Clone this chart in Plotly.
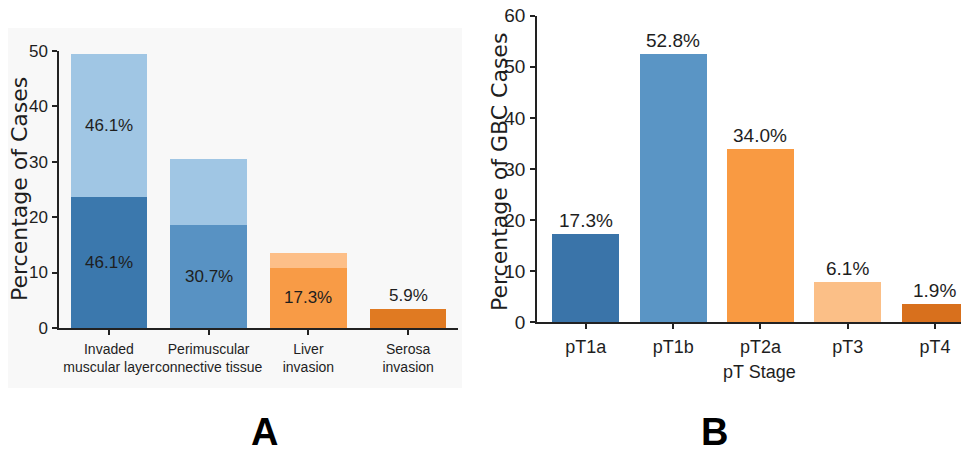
import plotly.graph_objects as go

# page body adds an 8px margin; the figure is sized to fill the rest of the window
OFF = 8
W, H = 969 - OFF, 452 - OFF

# ---- Panel A data ----
cats_a = ["Invaded<br>muscular layer", "Perimuscular<br>connective tissue",
          "Liver<br>invasion", "Serosa<br>invasion"]
lower_a = [23.6, 18.6, 10.9, 3.4]
upper_a = [25.8, 11.8, 2.7, 0.0]
lower_text_a = ["46.1%", "30.7%", "17.3%", ""]
upper_text_a = ["46.1%", "", "", ""]
above_text_a = ["", "", "", "5.9%"]
lower_colors_a = ["#3b78ad", "#5892c3", "#f89b46", "#e07a22"]
upper_colors_a = ["#a0c6e4", "#a0c6e4", "#fdbf88", "#e07a22"]
yticks_a = [0, 10, 20, 30, 40, 50]

# ---- Panel B data ----
cats_b = ["pT1a", "pT1b", "pT2a", "pT3", "pT4"]
vals_b = [17.2, 52.6, 34.0, 7.9, 3.6]
text_b = ["17.3%", "52.8%", "34.0%", "6.1%", "1.9%"]
colors_b = ["#3a74a9", "#5a95c5", "#f99a42", "#fbbf87", "#d8701d"]
yticks_b = [0, 10, 20, 30, 40, 50, 60]

NARROW = "Liberation Sans, Arial, sans-serif"
WIDE = "DejaVu Sans, Arial, sans-serif"
TXT = "#1e1e1e"

def px(x):
    return max(0.0, min(1.0, (x - OFF) / W))

def py(y):
    return max(0.0, min(1.0, 1 - (y - OFF) / H))

fig = go.Figure()
fig.add_trace(go.Bar(x=cats_a, y=lower_a, marker=dict(color=lower_colors_a, line=dict(width=0)),
                     width=0.765, xaxis="x", yaxis="y", showlegend=False, hoverinfo="skip"))
fig.add_trace(go.Bar(x=cats_a, y=upper_a, marker=dict(color=upper_colors_a, line=dict(width=0)),
                     width=0.765, xaxis="x", yaxis="y", showlegend=False, hoverinfo="skip"))
fig.add_trace(go.Bar(x=cats_b, y=vals_b, marker=dict(color=colors_b, line=dict(width=0)),
                     width=0.765, xaxis="x2", yaxis="y2", showlegend=False, hoverinfo="skip"))

ann = []
lab_a = dict(family=NARROW, size=17, color=TXT)
for i, c in enumerate(cats_a):
    if lower_text_a[i]:
        ann.append(dict(x=c, y=lower_a[i] / 2, xref="x", yref="y", text=lower_text_a[i],
                        showarrow=False, xanchor="center", yanchor="middle", font=lab_a))
    if upper_text_a[i]:
        ann.append(dict(x=c, y=lower_a[i] + upper_a[i] / 2, xref="x", yref="y", text=upper_text_a[i],
                        showarrow=False, xanchor="center", yanchor="middle", font=lab_a))
    if above_text_a[i]:
        ann.append(dict(x=c, y=lower_a[i] + upper_a[i], xref="x", yref="y", text=above_text_a[i],
                        showarrow=False, xanchor="center", yanchor="bottom", yshift=2, font=lab_a))
for i, c in enumerate(cats_b):
    ann.append(dict(x=c, y=vals_b[i], xref="x2", yref="y2", text=text_b[i],
                    showarrow=False, xanchor="center", yanchor="bottom", yshift=1,
                    font=dict(family=NARROW, size=19, color=TXT)))

# axis titles and panel letters
ann.append(dict(x=px(20), y=py(189), xref="paper", yref="paper", text="Percentage of Cases",
                textangle=-90, showarrow=False, xanchor="center", yanchor="middle",
                font=dict(family=WIDE, size=22, color=TXT)))
ann.append(dict(x=px(499), y=py(172), xref="paper", yref="paper", text="Percentage of GBC Cases",
                textangle=-90, showarrow=False, xanchor="center", yanchor="middle",
                font=dict(family=WIDE, size=22, color=TXT)))
ann.append(dict(x=px(759), y=py(372), xref="paper", yref="paper", text="pT Stage",
                showarrow=False, xanchor="center", yanchor="middle",
                font=dict(family=NARROW, size=18, color=TXT)))
ann.append(dict(x=px(264), y=py(432), xref="paper", yref="paper", text="<b>A</b>",
                showarrow=False, xanchor="center", yanchor="middle",
                font=dict(family=NARROW, size=38, color="#000")))
ann.append(dict(x=px(714), y=py(432), xref="paper", yref="paper", text="<b>B</b>",
                showarrow=False, xanchor="center", yanchor="middle",
                font=dict(family=NARROW, size=38, color="#000")))

axis_common = dict(showgrid=False, zeroline=False, showline=True, linecolor="#222", linewidth=1.5,
                   ticks="outside", tickcolor="#222", tickwidth=1.5, ticklen=5, tickangle=0,
                   automargin=False)

fig.update_layout(
    width=W, height=H,
    margin=dict(l=0, r=0, t=0, b=0, pad=0, autoexpand=False),
    paper_bgcolor="white", plot_bgcolor="rgba(0,0,0,0)",
    barmode="stack", bargap=0.2,
    annotations=ann,
    shapes=[dict(type="rect", xref="paper", yref="paper", x0=px(0), x1=px(462), y0=py(388), y1=py(28),
                 fillcolor="#f8f8f8", line=dict(width=0), layer="below")],
    xaxis=dict(domain=[px(59), px(458)], range=[-0.5, 3.5], anchor="y",
               tickfont=dict(family=NARROW, size=14, color=TXT), ticklabelstandoff=2, **axis_common),
    yaxis=dict(domain=[py(328), py(50.7)], range=[0, 50], anchor="x", tickvals=yticks_a,
               tickfont=dict(family=NARROW, size=17, color=TXT), ticklabelstandoff=1, **axis_common),
    xaxis2=dict(domain=[px(537), 1.0], range=[-0.56, 4.39], anchor="y2",
                tickfont=dict(family=NARROW, size=18, color=TXT), ticklabelstandoff=2, **axis_common),
    yaxis2=dict(domain=[py(322.3), py(15.7)], range=[0, 60], anchor="x2", tickvals=yticks_b,
                tickfont=dict(family=NARROW, size=19, color=TXT), ticklabelstandoff=1, **axis_common),
)

fig.write_html("out.html")
